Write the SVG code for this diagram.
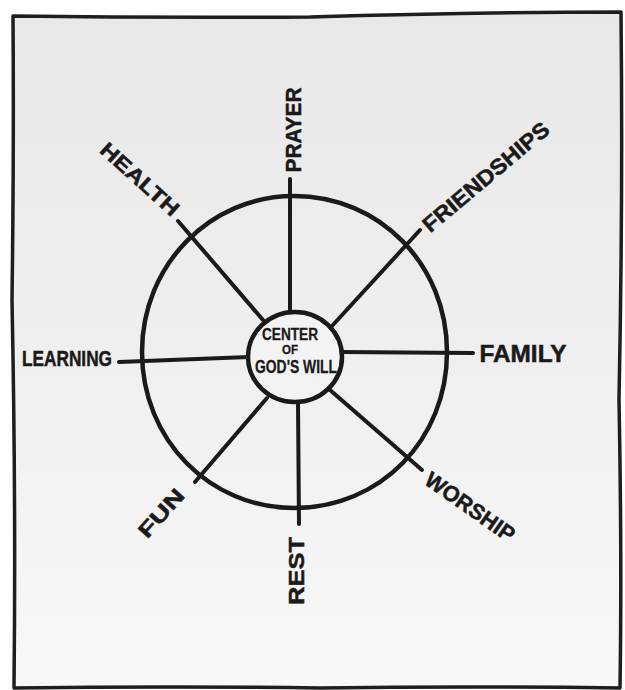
<svg xmlns="http://www.w3.org/2000/svg" width="625" height="690" viewBox="0 0 625 690">
<defs>
<linearGradient id="paper" x1="0" y1="0" x2="0" y2="1">
<stop offset="0" stop-color="#e8e8e8"/>
<stop offset="0.5" stop-color="#efefef"/>
<stop offset="1" stop-color="#f8f8f8"/>
</linearGradient>
<style>
.frame{fill:url(#paper);stroke:#1e1e1e;stroke-width:3.5;stroke-linejoin:round}
.ring{fill:none;stroke:#1a1a1a;stroke-width:4.5}
.hub{fill:#f3f3f3;stroke:#1a1a1a;stroke-width:4.5}
.spoke{fill:none;stroke:#1a1a1a;stroke-width:4;stroke-linecap:round}
.lbl{font-family:"Liberation Sans","DejaVu Sans",sans-serif;font-weight:bold;fill:#1a1a1a;stroke:#1a1a1a;stroke-width:0.5;text-anchor:middle;dominant-baseline:central}
.ctr{font-family:"Liberation Sans","DejaVu Sans",sans-serif;font-weight:bold;fill:#1a1a1a;stroke:#1a1a1a;stroke-width:0.3;text-anchor:middle}
</style>
</defs>
<rect x="0" y="0" width="625" height="690" fill="#ffffff"/>
<path class="frame" d="M13,16 Q160,18 310,17 Q470,12 621,12 Q623,200 619,400 Q622,560 620,688 Q470,686 320,688 Q170,686 14,688 Q16,500 12,300 Q14,150 13,16 Z"/>
<g id="wheel">
<path class="ring" d="M294,196 C380,196 447,265 447,352 C447,440 380,508 294,508 C210,508 142,440 142,352 C142,265 210,196 294,196 Z"/>
</g>
<g id="connectors">
<line class="spoke" x1="290" y1="179" x2="290" y2="311"/>
<line class="spoke" x1="178" y1="221" x2="263" y2="320"/>
<line class="spoke" x1="420" y1="230" x2="332" y2="326"/>
<line class="spoke" x1="119" y1="362" x2="249" y2="357"/>
<line class="spoke" x1="341" y1="352" x2="473" y2="353"/>
<line class="spoke" x1="195" y1="482" x2="267" y2="398"/>
<line class="spoke" x1="298" y1="402" x2="299" y2="524"/>
<line class="spoke" x1="330" y1="390" x2="422" y2="470"/>
</g>
<g id="center">
<ellipse class="hub" cx="295" cy="357" rx="47" ry="45"/>
<text class="ctr" x="290" y="340" font-size="16" textLength="56" lengthAdjust="spacingAndGlyphs">CENTER</text>
<text class="ctr" x="290" y="354" font-size="12" textLength="16" lengthAdjust="spacingAndGlyphs">OF</text>
<text class="ctr" x="296" y="373" font-size="19" textLength="82" lengthAdjust="spacingAndGlyphs">GOD'S WILL</text>
</g>
<g id="prayer"><text class="lbl" transform="translate(293,130) rotate(-90)" font-size="22" textLength="85" lengthAdjust="spacingAndGlyphs">PRAYER</text></g>
<g id="health"><text class="lbl" transform="translate(140,179) rotate(42)" font-size="21" textLength="98" lengthAdjust="spacingAndGlyphs">HEALTH</text></g>
<g id="friendships"><text class="lbl" transform="translate(486,177) rotate(-40)" font-size="22" textLength="158" lengthAdjust="spacingAndGlyphs">FRIENDSHIPS</text></g>
<g id="learning"><text class="lbl" x="67" y="358" font-size="22" textLength="90" lengthAdjust="spacingAndGlyphs">LEARNING</text></g>
<g id="family"><text class="lbl" x="523" y="354" font-size="23" textLength="87" lengthAdjust="spacingAndGlyphs">FAMILY</text></g>
<g id="fun"><text class="lbl" transform="translate(161,513) rotate(-48)" font-size="21" textLength="58" lengthAdjust="spacingAndGlyphs">FUN</text></g>
<g id="rest"><text class="lbl" transform="translate(296,571) rotate(-90)" font-size="22" textLength="68" lengthAdjust="spacingAndGlyphs">REST</text></g>
<g id="worship"><text class="lbl" transform="translate(470,507) rotate(35)" font-size="22" textLength="104" lengthAdjust="spacingAndGlyphs">WORSHIP</text></g>
</svg>
